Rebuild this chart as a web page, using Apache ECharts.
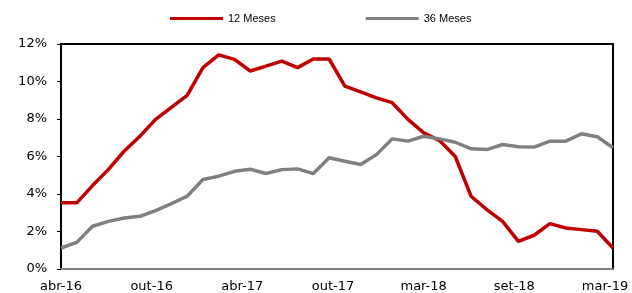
<!DOCTYPE html>
<html>
<head>
<meta charset="utf-8">
<title>12 Meses x 36 Meses</title>
<script src="https://cdn.jsdelivr.net/npm/echarts@6/dist/echarts.min.js"></script>
<style>
    html, body {margin: 0; padding: 0; background: #fff;}
    #chart {width: 632px; height: 293px;}
</style>
</head>
<body>
<div id="chart"></div>
<script>
// meses (abr-16 .. mar-19)
var months = ['abr-16','mai-16','jun-16','jul-16','ago-16','set-16','out-16','nov-16','dez-16',
    'jan-17','fev-17','mar-17','abr-17','mai-17','jun-17','jul-17','ago-17','set-17','out-17','nov-17','dez-17',
    'jan-18','fev-18','mar-18','abr-18','mai-18','jun-18','jul-18','ago-18','set-18','out-18','nov-18','dez-18',
    'jan-19','fev-19','mar-19'];
// 12 meses (%)
var serie12 = [3.53, 3.53, 4.45, 5.3, 6.28, 7.08, 7.98, 8.62, 9.26, 10.74, 11.42, 11.18,
    10.56, 10.82, 11.09, 10.74, 11.2, 11.2, 9.75, 9.45, 9.13, 8.87, 7.98, 7.26,
    6.85, 6.0, 3.88, 3.17, 2.54, 1.47, 1.8, 2.42, 2.19, 2.1, 2.01, 1.12];
// 36 meses (%)
var serie36 = [1.12, 1.42, 2.28, 2.54, 2.72, 2.81, 3.11, 3.49, 3.88, 4.77, 4.95, 5.21,
    5.32, 5.09, 5.3, 5.34, 5.09, 5.93, 5.75, 5.57, 6.1, 6.94, 6.82, 7.08,
    6.94, 6.76, 6.41, 6.37, 6.64, 6.52, 6.5, 6.82, 6.82, 7.21, 7.05, 6.47];
// rótulos do eixo x
var tickLabels = ['abr-16', 'out-16', 'abr-17', 'out-17', 'mar-18', 'set-18', 'mar-19'];

var axisFont = 'DejaVu Sans';

var chart = echarts.init(document.getElementById('chart'));
var option = {
    animation: false,
    legend: {
        data: ['12 Meses', '36 Meses'],
        left: 165,
        top: 8,
        icon: 'rect',
        itemWidth: 53,
        itemHeight: 3,
        itemGap: 90,
        textStyle: {fontFamily: 'Liberation Sans', fontSize: 11, color: '#000'}
    },
    grid: [
        // área do gráfico
        {left: 61, right: 19, top: 44, bottom: 24, show: true, borderColor: '#000', borderWidth: 2},
        // só para os rótulos do eixo x
        {left: 61, right: 27, top: 44, bottom: 24}
    ],
    xAxis: [
        {
            type: 'category',
            gridIndex: 0,
            data: months,
            boundaryGap: false,
            axisLine: {lineStyle: {color: '#808080', width: 2}},
            axisTick: {show: false},
            axisLabel: {show: false},
            splitLine: {show: false}
        },
        {
            type: 'value',
            gridIndex: 1,
            min: 0,
            max: tickLabels.length - 1,
            interval: 1,
            axisLine: {show: false},
            axisTick: {show: false},
            splitLine: {show: false},
            axisLabel: {
                margin: 12,
                showMinLabel: true,
                showMaxLabel: true,
                fontFamily: axisFont,
                fontSize: 13,
                color: '#000',
                formatter: function (v) {
                    return tickLabels[v];
                }
            }
        }
    ],
    yAxis: [
        {
            type: 'value',
            gridIndex: 0,
            min: 0,
            max: 12,
            interval: 2,
            axisLine: {show: true, lineStyle: {color: '#000', width: 2}},
            axisTick: {show: true, length: 4, lineStyle: {color: '#000'}},
            splitLine: {show: false},
            axisLabel: {
                margin: 14,
                fontFamily: axisFont,
                fontSize: 13,
                color: '#000',
                formatter: '{value}%'
            }
        },
        {type: 'value', gridIndex: 1, show: false}
    ],
    series: [
        {
            name: '12 Meses',
            type: 'line',
            xAxisIndex: 0,
            yAxisIndex: 0,
            data: serie12,
            symbol: 'none',
            itemStyle: {color: '#C00000'},
            lineStyle: {color: '#C00000', width: 3.5}
        },
        {
            name: '36 Meses',
            type: 'line',
            xAxisIndex: 0,
            yAxisIndex: 0,
            data: serie36,
            symbol: 'none',
            itemStyle: {color: '#808080'},
            lineStyle: {color: '#808080', width: 3.5}
        }
    ]
};
chart.setOption(option);
</script>
</body>
</html>
